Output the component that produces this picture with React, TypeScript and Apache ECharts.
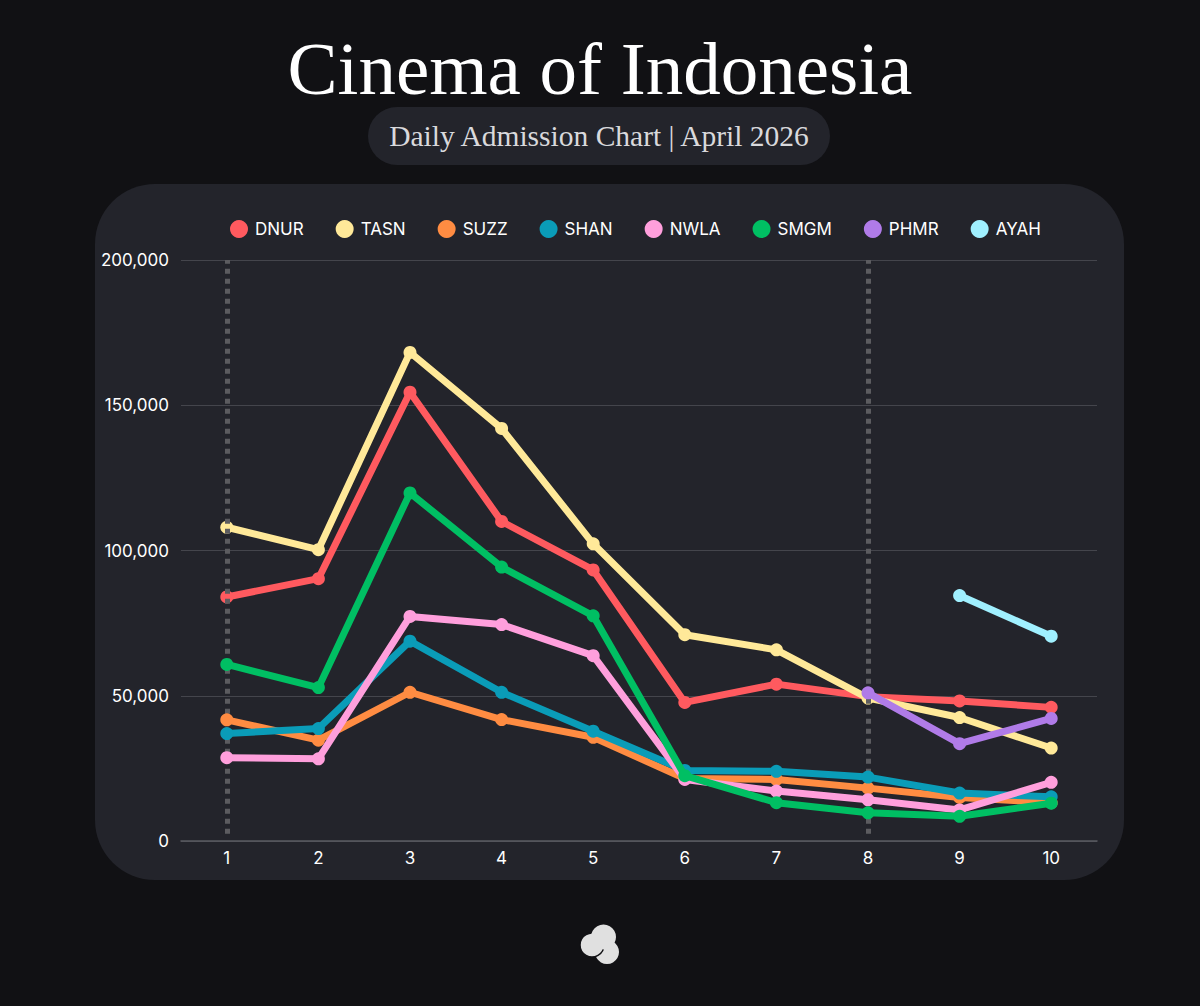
import React, { useEffect, useRef } from "react";
import * as echarts from "echarts";

const days = ["1", "2", "3", "4", "5", "6", "7", "8", "9", "10"];
const DNUR = [84000, 90300, 154500, 110000, 93300, 47700, 54000, 49700, 48200, 46000];
const TASN = [108000, 100300, 168200, 142000, 102300, 71000, 65800, 49200, 42500, 32000];
const SUZZ = [41700, 34700, 51200, 41800, 35700, 21500, 21200, 18200, 15000, 13200];
const SHAN = [37000, 38700, 68800, 51200, 37800, 24300, 24000, 22000, 16500, 15200];
const NWLA = [28700, 28300, 77300, 74500, 63800, 21200, 17200, 14200, 10700, 20200];
const SMGM = [60800, 52800, 119800, 94300, 77500, 22500, 13200, 9700, 8500, 13000];
const PHMR = [null, null, null, null, null, null, null, 51000, 33500, 42200];
const AYAH = [null, null, null, null, null, null, null, null, 84500, 70500];
const names = ["DNUR", "TASN", "SUZZ", "SHAN", "NWLA", "SMGM", "PHMR", "AYAH"];
const values = [DNUR, TASN, SUZZ, SHAN, NWLA, SMGM, PHMR, AYAH];
const colors = ["#ff5a5f", "#ffe999", "#ff8c42", "#0a9cb8", "#ff9fdc", "#00bf63", "#b07be8", "#a0f0ff"];
const markedDays = ["1", "8"];

const UI_FONT = "Inter";
const SERIF = "'Liberation Serif'";

export default function App() {
  const ref = useRef<HTMLDivElement>(null);
  useEffect(() => {
    const chart = echarts.init(ref.current!, null, { renderer: "svg" });
    chart.setOption({
      animation: false,
      backgroundColor: "#111114",
      textStyle: { fontFamily: UI_FONT },
      graphic: [
        { type: "rect", z: -10, shape: { x: 95, y: 184, width: 1029, height: 696, r: 60 }, style: { fill: "#23242b" } },
        { type: "rect", z: -10, shape: { x: 368, y: 107, width: 462, height: 58, r: 29 }, style: { fill: "#23242b" } },
        { type: "text", x: 600, y: 68, style: { text: "Cinema of Indonesia", fill: "#ffffff", font: `400 75px ${SERIF}`, textAlign: "center", textVerticalAlign: "middle" } },
        { type: "text", x: 599, y: 136, style: { text: "Daily Admission Chart | April 2026", fill: "#d9d9dc", font: `400 29.5px ${SERIF}`, textAlign: "center", textVerticalAlign: "middle" } },
        { type: "circle", shape: { cx: 607, cy: 952, r: 12 }, style: { fill: "#e0e0e0" } },
        { type: "circle", shape: { cx: 592, cy: 945, r: 12 }, style: { fill: "#e0e0e0", stroke: "#111114", lineWidth: 1.5 } },
        { type: "circle", shape: { cx: 603.5, cy: 937, r: 12.5 }, style: { fill: "#e0e0e0" } },
      ],
      legend: {
        data: names,
        left: 225,
        top: 215,
        icon: "circle",
        itemWidth: 18,
        itemHeight: 18,
        itemGap: 32,
        textStyle: { color: "#ffffff", fontSize: 17, fontFamily: UI_FONT, padding: [0, 0, 0, 2] },
      },
      grid: { left: 181, top: 260, width: 916, height: 581 },
      xAxis: {
        type: "category",
        data: days,
        axisLine: { lineStyle: { color: "#5a5b62", width: 1.5 } },
        axisTick: { show: false },
        axisLabel: { color: "#ffffff", fontSize: 17, margin: 8 },
        splitLine: { show: false },
      },
      yAxis: {
        type: "value",
        min: 0,
        max: 200000,
        interval: 50000,
        axisLine: { show: false },
        axisTick: { show: false },
        axisLabel: { color: "#ffffff", fontSize: 17, margin: 12, formatter: (v: number) => v.toLocaleString("en-US") },
        splitLine: { lineStyle: { color: "#44454c", width: 1 } },
      },
      series: [
        {
          type: "line",
          name: "marks",
          data: [],
          silent: true,
          z: 1,
          markLine: {
            silent: true,
            symbol: "none",
            label: { show: false },
            lineStyle: { color: "#5c5c60", width: 5, type: [5, 5] },
            data: markedDays.map((d) => [{ xAxis: d, yAxis: 2500 }, { xAxis: d, yAxis: 200000 }]),
          },
        },
        ...names.map((name, i) => ({
          type: "line",
          name,
          data: values[i],
          z: 3 + i,
          symbol: "circle",
          symbolSize: 13,
          showAllSymbol: true,
          connectNulls: false,
          lineStyle: { color: colors[i], width: 7 },
          itemStyle: { color: colors[i] },
        })),
      ],
    });
    return () => chart.dispose();
  }, []);
  return <div ref={ref} style={{ position: "absolute", left: 0, top: 0, width: 1200, height: 1006 }} />;
}
